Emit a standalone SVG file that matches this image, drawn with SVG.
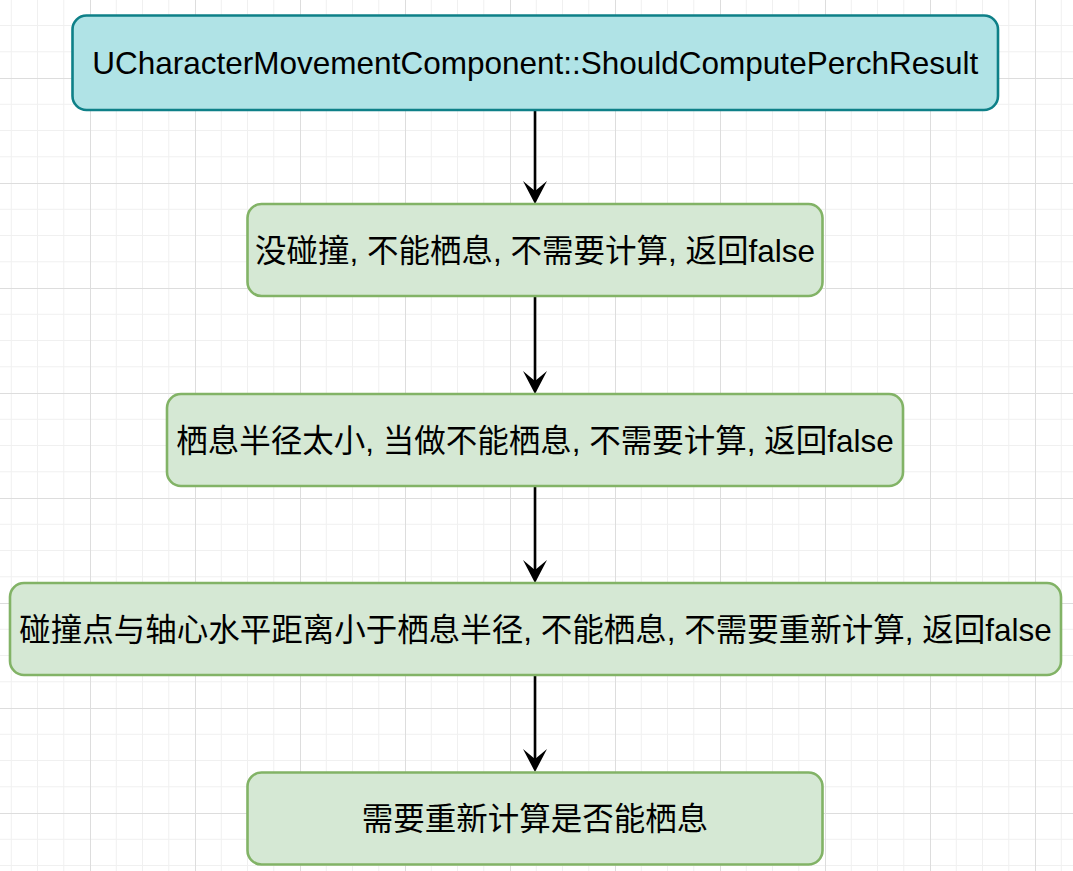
<svg xmlns="http://www.w3.org/2000/svg" width="1073" height="871" viewBox="0 0 1073 871">
  <style>
    .teal { fill: #b0e3e6; stroke: #0e8088; stroke-width: 2.6; }
    .green { fill: #d5e8d4; stroke: #82b366; stroke-width: 2.6; }
    .lbl { font-family: "Liberation Sans", "Noto Sans CJK SC", sans-serif; font-size: 31.5px; fill: #000000; text-anchor: middle; }
    .edge { stroke: #000000; stroke-width: 2.6; fill: none; marker-end: url(#arrow); }
  </style>
  <defs>
    <pattern id="grid" x="90" y="78" width="105" height="105" patternUnits="userSpaceOnUse">
      <path d="M26.25,0 V105 M52.5,0 V105 M78.75,0 V105 M0,26.25 H105 M0,52.5 H105 M0,78.75 H105" stroke="#f0f0f0" stroke-width="1" fill="none"/>
      <path d="M0.5,0 V105 M0,0.5 H105" stroke="#dddddd" stroke-width="1" fill="none"/>
    </pattern>
    <marker id="arrow" markerUnits="userSpaceOnUse" viewBox="0 0 23 24" markerWidth="23" markerHeight="24" refX="10" refY="12" orient="auto">
      <path d="M0,0 L23,12 L0,24 L10,12 Z" fill="#000000"/>
    </marker>
  </defs>
  <rect x="0" y="0" width="1073" height="871" fill="#ffffff"/>
  <rect x="0" y="0" width="1073" height="871" fill="url(#grid)"/>

  <g id="connectors">
    <path class="edge" d="M535,110 V191"/>
    <path class="edge" d="M535,296 V381"/>
    <path class="edge" d="M535,486 V570"/>
    <path class="edge" d="M535,675 V759"/>
  </g>

  <g id="node1">
    <rect class="teal" x="72.5" y="15.5" width="925.5" height="94.5" rx="14" ry="14"/>
    <text class="lbl" x="535.25" y="74.25">UCharacterMovementComponent::ShouldComputePerchResult</text>
  </g>
  <g id="node2">
    <rect class="green" x="247.5" y="204" width="575" height="92" rx="14" ry="14"/>
    <text class="lbl" x="535" y="261.5">没碰撞, 不能栖息, 不需要计算, 返回false</text>
  </g>
  <g id="node3">
    <rect class="green" x="167" y="394" width="736" height="92" rx="14" ry="14"/>
    <text class="lbl" x="535" y="451.5">栖息半径太小, 当做不能栖息, 不需要计算, 返回false</text>
  </g>
  <g id="node4">
    <rect class="green" x="10" y="583" width="1051" height="92" rx="14" ry="14"/>
    <text class="lbl" x="535.5" y="640.5">碰撞点与轴心水平距离小于栖息半径, 不能栖息, 不需要重新计算, 返回false</text>
  </g>
  <g id="node5">
    <rect class="green" x="247.5" y="772.5" width="575" height="92" rx="14" ry="14"/>
    <text class="lbl" x="535" y="830">需要重新计算是否能栖息</text>
  </g>
</svg>
